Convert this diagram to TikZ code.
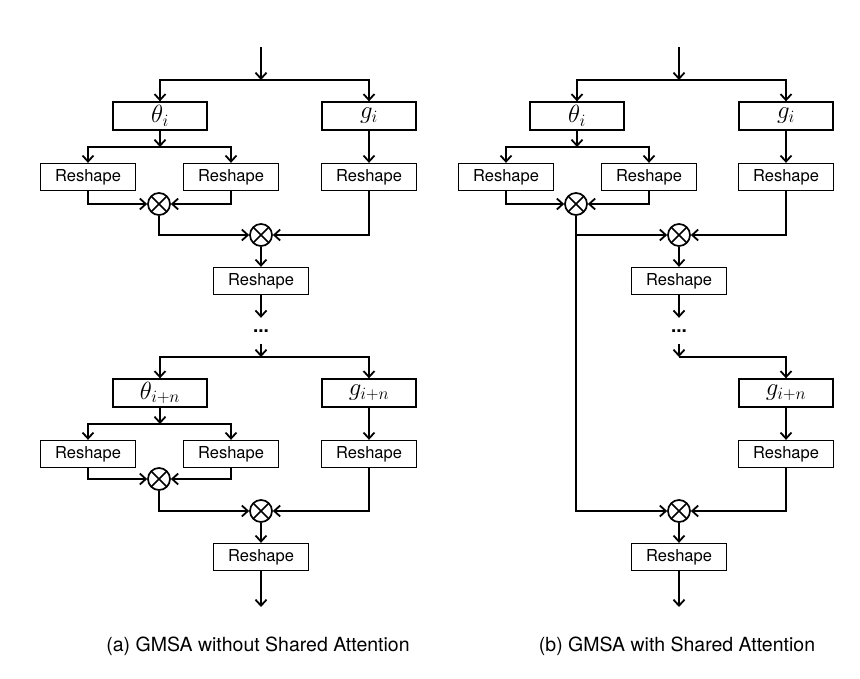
\documentclass[tikz,border=0pt]{standalone}
\usepackage{fontspec}
\setmainfont{TeX Gyre Heros}
\usepackage{amsmath}
\usetikzlibrary{arrows.meta,positioning}
\tikzstyle{block} = [rectangle, draw, line width=1.3pt, inner sep=0pt,
    minimum height=27pt, minimum width=95pt, font=\fontsize{16.5}{18}\selectfont]
\tikzstyle{mblock} = [block, minimum height=28pt, minimum width=94pt,
    font=\fontsize{24}{26}\selectfont]
\tikzstyle{prod} = [circle, draw, line width=1.7pt, minimum size=22pt, inner sep=0pt,
    path picture={\draw[line width=1.7pt] (path picture bounding box.north west) -- (path picture bounding box.south east)
      (path picture bounding box.south west) -- (path picture bounding box.north east);}]
\tikzstyle{dots} = [inner sep=0pt, minimum height=26pt, font=\fontsize{19}{20}\selectfont\bfseries]
\tikzstyle{arrow} = [line width=1.8pt, -{Straight Barb[length=6pt,width=11pt]}]

\begin{document}
\begin{tikzpicture}[x=1pt, y=-1pt, node distance=61pt]
\useasboundingbox (0,0) rectangle (860,678);
% (a) without shared attention
\coordinate (ain) at (261,47);
\coordinate (asplit) at (261,80);
\node[mblock] (ath) at (160,116) {$\theta_i$};
\node[mblock] (ag) at (369,116) {$g_i$};
\coordinate (athsplit) at (160,147);
\node[block, below of=ath, xshift=-72pt] (ar1) {Reshape};
\node[block, below of=ath, xshift=71pt] (ar2) {Reshape};
\node[block, below of=ag] (ar3) {Reshape};
\node[prod] (am1) at (159,204) {};
\node[prod] (am2) at (261,235) {};
\node[block, below of=am2, node distance=46pt] (ar4) {Reshape};
\node[dots] (adots) at (261,331) {...};
\coordinate (asplit2) at (261,357);
\node[mblock] (athn) at (160,393) {$\theta_{i+n}$};
\node[mblock] (agn) at (369,393) {$g_{i+n}$};
\coordinate (athnsplit) at (160,424);
\node[block, below of=athn, xshift=-72pt] (ar5) {Reshape};
\node[block, below of=athn, xshift=71pt] (ar6) {Reshape};
\node[block, below of=agn] (ar7) {Reshape};
\node[prod] (am3) at (159,479) {};
\node[prod] (am4) at (261,511) {};
\node[block, below of=am4, node distance=46pt] (ar8) {Reshape};
\coordinate (aout) at (261,607);
\node[font=\fontsize{19.5}{22}\selectfont] (acap) at (258,646) {(a) GMSA without Shared Attention};

\draw[arrow] (ain) -- (asplit);
\draw[arrow] (asplit) -| (ath);
\draw[arrow] (asplit) -| (ag);
\draw[arrow] (ath) -- (athsplit);
\draw[arrow] (athsplit) -| (ar1);
\draw[arrow] (athsplit) -| (ar2);
\draw[arrow] (ag) -- (ar3);
\draw[arrow] (ar1) |- (am1);
\draw[arrow] (ar2) |- (am1);
\draw[arrow] (am1) |- (am2);
\draw[arrow] (ar3) |- (am2);
\draw[arrow] (am2) -- (ar4);
\draw[arrow] (ar4) -- (adots);
\draw[arrow] (adots) -- (asplit2);
\draw[arrow] (asplit2) -| (athn);
\draw[arrow] (asplit2) -| (agn);
\draw[arrow] (athn) -- (athnsplit);
\draw[arrow] (athnsplit) -| (ar5);
\draw[arrow] (athnsplit) -| (ar6);
\draw[arrow] (agn) -- (ar7);
\draw[arrow] (ar5) |- (am3);
\draw[arrow] (ar6) |- (am3);
\draw[arrow] (am3) |- (am4);
\draw[arrow] (ar7) |- (am4);
\draw[arrow] (am4) -- (ar8);
\draw[arrow] (ar8) -- (aout);

% (b) with shared attention
\coordinate (bin) at (679,47);
\coordinate (bsplit) at (679,80);
\node[mblock] (bth) at (577,116) {$\theta_i$};
\node[mblock] (bg) at (786,116) {$g_i$};
\coordinate (bthsplit) at (577,147);
\node[block, below of=bth, xshift=-71pt] (br1) {Reshape};
\node[block, below of=bth, xshift=72pt] (br2) {Reshape};
\node[block, below of=bg] (br3) {Reshape};
\node[prod] (bm1) at (576,204) {};
\node[prod] (bm2) at (679,235) {};
\node[block, below of=bm2, node distance=46pt] (br4) {Reshape};
\node[dots] (bdots) at (679,331) {...};
\coordinate (bsplit2) at (679,357);
\node[mblock] (bgn) at (786,393) {$g_{i+n}$};
\node[block, below of=bgn] (br7) {Reshape};
\node[prod] (bm4) at (679,511) {};
\node[block, below of=bm4, node distance=46pt] (br8) {Reshape};
\coordinate (bout) at (679,607);
\node[font=\fontsize{19.5}{22}\selectfont] (bcap) at (677,646) {(b) GMSA with Shared Attention};

\draw[arrow] (bin) -- (bsplit);
\draw[arrow] (bsplit) -| (bth);
\draw[arrow] (bsplit) -| (bg);
\draw[arrow] (bth) -- (bthsplit);
\draw[arrow] (bthsplit) -| (br1);
\draw[arrow] (bthsplit) -| (br2);
\draw[arrow] (bg) -- (br3);
\draw[arrow] (br1) |- (bm1);
\draw[arrow] (br2) |- (bm1);
\draw[arrow] (bm1) |- (bm2);
\draw[arrow] (br3) |- (bm2);
\draw[arrow] (bm2) -- (br4);
\draw[arrow] (br4) -- (bdots);
\draw[arrow] (bdots) -- (bsplit2);
\draw[arrow] (bsplit2) -| (bgn);
\draw[arrow] (bgn) -- (br7);
\draw[arrow] (bm1) |- (bm4);
\draw[arrow] (br7) |- (bm4);
\draw[arrow] (bm4) -- (br8);
\draw[arrow] (br8) -- (bout);
\end{tikzpicture}
\end{document}
